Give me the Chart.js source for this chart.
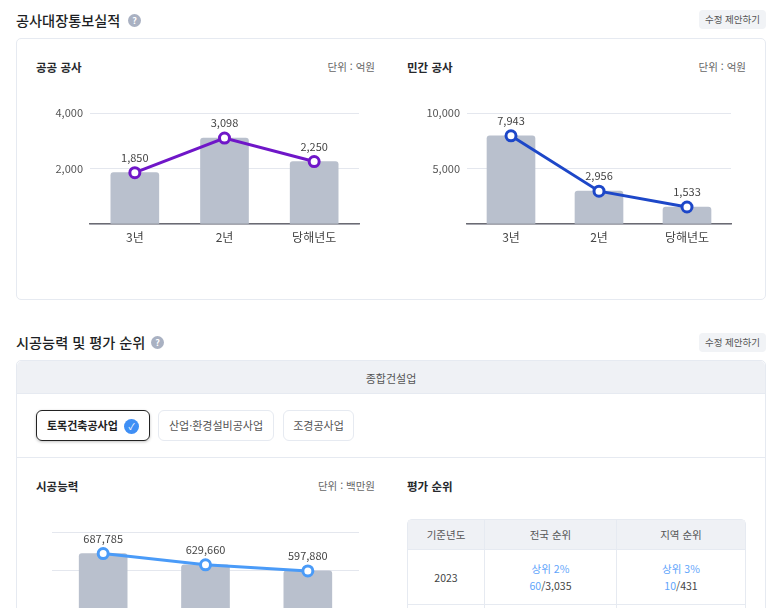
<!DOCTYPE html>
<html lang="ko">
<head>
  <meta charset="UTF-8" />
  <title>공사대장통보실적</title>
  <script src="https://cdn.jsdelivr.net/npm/chart.js"></script>
  <style>
    html, body { margin: 0; height: 608px; overflow: hidden; background: #fff; }
    body { font-family: "Noto Sans CJK KR", "Noto Sans", sans-serif; color: #222; position: relative; width: 773px; }
    .abs { position: absolute; white-space: nowrap; line-height: 1; }
    canvas { position: absolute; }
    .title { font-size: 14.2px; font-weight: 500; left: 16px; color: #1d1f24; }
    .help { width: 13px; height: 13px; border-radius: 50%; background: #a9b1c2; color: #fff; font-size: 9px; font-weight: 700; text-align: center; line-height: 13px; }
    .suggest { left: 699px; width: 67px; height: 19px; line-height: 19px; background: #f1f3f6; border-radius: 4px; font-size: 9.5px; color: #555; text-align: center; }
    .card { border: 1px solid #e6eaf1; border-radius: 5px; box-sizing: border-box; }
    .sub { font-size: 11.5px; font-weight: 700; color: #26282c; }
    .unit { font-size: 10.5px; color: #666; text-align: right; }
    .band { left: 17px; top: 361px; width: 748px; height: 33px; background: #eff1f5; border-bottom: 1px solid #e6eaf1; font-size: 11px; color: #555; text-align: center; line-height: 35px; border-radius: 5px 5px 0 0; box-sizing: border-box; }
    .tab { top: 410px; height: 31px; line-height: 29px; box-sizing: border-box; border: 1px solid #e6eaf1; border-radius: 6px; font-size: 11px; color: #555; text-align: center; }
    .tab.on { border-color: #222; color: #222; font-weight: 700; text-align: left; padding-left: 10px; box-shadow: 0 1px 3px rgba(0,0,0,.25); }
    .check { left: 124px; top: 419px; width: 15px; height: 15px; border-radius: 50%; background: #3f8ff5; color: #fff; font-size: 9px; line-height: 15px; text-align: center; }
    .rule { left: 17px; top: 457px; width: 748px; height: 1px; background: #e6eaf1; }
    table { position: absolute; left: 407px; top: 519px; width: 339px; border-collapse: separate; border-spacing: 0; table-layout: fixed; font-size: 10.5px; color: #444; text-align: center; border: 1px solid #e6eaf1; border-radius: 5px; box-sizing: border-box; }
    th { height: 29px; padding: 0; background: #eff1f5; font-weight: 400; color: #555; border-right: 1px solid #e6eaf1; box-sizing: border-box; }
    td { height: 55px; padding: 0; border-top: 1px solid #e6eaf1; border-right: 1px solid #e6eaf1; line-height: 17px; box-sizing: border-box; }
    th:last-child, td:last-child { border-right: none; }
    .hl { color: #5fa5fb; }
  </style>
</head>
<body>
  <div class="abs title" style="top:13px">공사대장통보실적</div>
  <div class="abs help" style="left:128px;top:14px">?</div>
  <div class="abs suggest" style="top:10px">수정 제안하기</div>
  <div class="abs card" style="left:16px;top:38px;width:750px;height:262px"></div>
  <div class="abs sub" style="left:36px;top:62px">공공 공사</div>
  <div class="abs unit" style="right:398px;top:62px">단위 : 억원</div>
  <div class="abs sub" style="left:407px;top:62px">민간 공사</div>
  <div class="abs unit" style="right:27px;top:62px">단위 : 억원</div>
  <canvas id="publicChart"></canvas>
  <canvas id="privateChart"></canvas>

  <div class="abs title" style="top:335px">시공능력 및 평가 순위</div>
  <div class="abs help" style="left:151px;top:336px">?</div>
  <div class="abs suggest" style="top:333px">수정 제안하기</div>
  <div class="abs card" style="left:16px;top:360px;width:750px;height:300px"></div>
  <div class="abs band">종합건설업</div>
  <div class="abs tab on" style="left:36px;width:114px">토목건축공사업</div>
  <div class="abs check">✓</div>
  <div class="abs tab" style="left:158px;width:116px">산업·환경설비공사업</div>
  <div class="abs tab" style="left:283px;width:71px">조경공사업</div>
  <div class="abs rule"></div>
  <div class="abs sub" style="left:36px;top:481px">시공능력</div>
  <div class="abs unit" style="right:398px;top:481px">단위 : 백만원</div>
  <div class="abs sub" style="left:407px;top:481px">평가 순위</div>
  <canvas id="capacityChart"></canvas>
  <table>
    <colgroup><col style="width:77px"><col style="width:132px"><col></colgroup>
    <thead><tr id="rankHead"></tr></thead>
    <tbody id="rankBody"></tbody>
  </table>

  <script>
    const yearLabels = ["3년", "2년", "당해년도"];
    const publicValues = [1850, 3098, 2250];
    const privateValues = [7943, 2956, 1533];
    const capacityValues = [687785, 629660, 597880];

    const rankHeaders = ["기준년도", "전국 순위", "지역 순위"];
    const rankYears = ["2023"];
    const nationalPercent = ["상위 2%"];
    const nationalRank = ["60"];
    const nationalTotal = ["3,035"];
    const regionPercent = ["상위 3%"];
    const regionRank = ["10"];
    const regionTotal = ["431"];

    const BAR_COLOR = "#b9c0cd";
    const GRID_COLOR = "#e4e7ee";
    const AXIS_COLOR = "#6b6b73";
    const FONT = '"Noto Sans CJK KR", "Noto Sans", sans-serif';

    // draws the number above each point of the line
    const valueLabels = {
      id: "valueLabels",
      afterDatasetsDraw(chart) {
        const { ctx } = chart;
        const meta = chart.getDatasetMeta(1);
        ctx.save();
        ctx.font = "11px " + FONT;
        ctx.fillStyle = "#444";
        ctx.textAlign = "center";
        ctx.textBaseline = "middle";
        meta.data.forEach((pt, i) => {
          ctx.fillText(chart.data.datasets[1].data[i].toLocaleString("en-US"), pt.x, pt.y - 15);
        });
        ctx.restore();
      }
    };

    function makeChart(id, box, values, lineColor, maxY, step, showTicks) {
      const el = document.getElementById(id);
      el.width = box.width;
      el.height = box.height;
      el.style.left = box.left + "px";
      el.style.top = box.top + "px";
      return new Chart(el, {
        data: {
          labels: yearLabels,
          datasets: [
            { type: "bar", data: values, backgroundColor: BAR_COLOR, barThickness: 48,
              borderRadius: { topLeft: 3, topRight: 3 }, borderSkipped: "bottom", order: 2 },
            { type: "line", data: values, borderColor: lineColor, borderWidth: 3,
              pointRadius: 5, pointHoverRadius: 5, pointBorderWidth: 3,
              pointBackgroundColor: "#fff", pointBorderColor: lineColor, tension: 0, order: 1 }
          ]
        },
        options: {
          responsive: false,
          animation: false,
          devicePixelRatio: 1,
          layout: { padding: { top: box.padTop, right: 0, bottom: 0, left: 0 } },
          plugins: { legend: { display: false }, tooltip: { enabled: false } },
          scales: {
            x: {
              grid: { display: false, drawTicks: false },
              border: { color: AXIS_COLOR, width: 1.5 },
              ticks: { color: "#444", font: { family: FONT, size: 12 }, padding: 6, maxRotation: 0 },
              afterFit: s => { s.height = 30; s.paddingLeft = 0; s.paddingRight = 0; }
            },
            y: {
              min: 0,
              max: maxY,
              grid: { color: GRID_COLOR, drawTicks: false },
              border: { display: false },
              ticks: {
                display: showTicks,
                stepSize: step,
                color: "#555",
                padding: 7,
                font: { family: FONT, size: 11 },
                callback: v => v === 0 ? "" : v.toLocaleString("en-US")
              },
              afterFit: s => { s.width = box.yWidth; s.paddingTop = 0; s.paddingBottom = 0; }
            }
          }
        },
        plugins: [valueLabels]
      });
    }

    makeChart("publicChart", { left: 30, top: 100, width: 337, height: 154, padTop: 13, yWidth: 60 },
      publicValues, "#6f16c8", 4000, 2000, true);
    makeChart("privateChart", { left: 407, top: 100, width: 332, height: 154, padTop: 13, yWidth: 60 },
      privateValues, "#1d47c8", 10000, 5000, true);
    makeChart("capacityChart", { left: 32, top: 520, width: 335, height: 196, padTop: 12, yWidth: 20 },
      capacityValues, "#4a9bf8", 800000, 200000, false);

    document.getElementById("rankHead").innerHTML = rankHeaders.map(h => `<th>${h}</th>`).join("");
    document.getElementById("rankBody").innerHTML = rankYears.map((y, i) => `<tr>
      <td>${y}</td>
      <td><span class="hl">${nationalPercent[i]}</span><br><span class="hl">${nationalRank[i]}</span>/${nationalTotal[i]}</td>
      <td><span class="hl">${regionPercent[i]}</span><br><span class="hl">${regionRank[i]}</span>/${regionTotal[i]}</td>
    </tr><tr><td></td><td></td><td></td></tr>`).join("");
  </script>
</body>
</html>
